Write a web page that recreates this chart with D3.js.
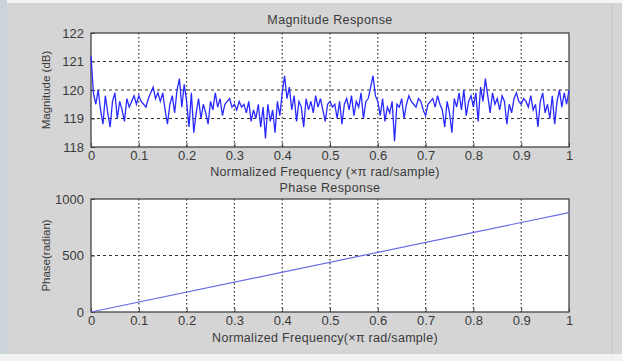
<!DOCTYPE html>
<html>
<head>
<script type="text/javascript" src="https://cdn.jsdelivr.net/npm/d3@7"></script>
<style>
body { margin: 0; background: #d5d5d5; }
svg { display: block; font-family: "Liberation Sans", Arial, sans-serif; }
</style>
</head>
<body>
<div id="chart"></div>
<script>
// magnitude (dB), one value every 0.005 of normalized frequency
var magValues = [
  121.2, 119.9, 119.5, 120.0, 119.3, 118.8, 119.8, 119.2, 118.7, 119.6, 119.9, 119.0, 119.6, 119.3, 118.9, 119.7, 119.4, 119.6, 119.8, 119.5,
  119.8, 119.6, 119.5, 119.4, 119.7, 119.9, 120.1, 119.7, 119.9, 119.6, 119.9, 119.3, 118.8, 119.5, 119.8, 119.2, 120.0, 120.4, 119.4, 120.2,
  119.6, 118.7, 119.9, 118.5, 119.2, 119.7, 119.0, 119.5, 119.2, 118.8, 119.6, 119.3, 119.9, 119.4, 119.7, 119.1, 119.5, 119.6, 119.7, 119.4,
  119.5, 119.3, 119.6, 119.4, 119.5, 119.2, 119.6, 118.9, 119.3, 119.0, 119.5, 118.7, 119.4, 118.3, 119.5, 118.9, 119.3, 118.5, 119.6, 119.1,
  119.9, 120.5, 119.7, 120.1, 119.3, 119.8, 118.9, 119.6, 119.4, 118.7, 119.7, 119.3, 119.6, 119.2, 119.8, 119.4, 119.7, 119.3, 118.9, 119.5,
  119.6, 119.4, 119.5, 119.0, 119.6, 118.8, 119.5, 119.7, 119.3, 119.8, 119.1, 119.6, 119.4, 119.9, 119.0, 119.6, 119.7, 120.1, 120.5, 119.8,
  119.6, 119.1, 119.7, 118.9, 119.4, 119.2, 119.6, 118.2, 119.5, 119.4, 119.7, 119.0, 119.5, 119.8, 119.6, 119.5, 119.4, 119.7, 119.6, 119.3,
  119.1, 119.5, 119.6, 119.7, 119.4, 119.8, 119.5, 119.3, 118.7, 119.6, 119.2, 118.5, 119.7, 119.4, 119.9, 119.3, 120.0, 119.1, 119.6, 119.8,
  119.4, 119.9, 118.9, 120.1, 119.6, 120.4, 119.8, 119.2, 119.9, 119.5, 119.7, 119.3, 119.8, 119.6, 118.8, 119.5, 119.2, 119.7, 119.9, 119.6,
  119.5, 119.7, 119.6, 119.4, 119.8, 119.3, 119.5, 118.7, 119.6, 119.9, 119.2, 119.5, 119.0, 119.8, 118.8, 119.6, 120.0, 119.4, 119.9, 119.5,
  120.0
];
var phaseFreq = [0, 1];
var phaseValues = [0, 880];

var xTicks = [0, 0.1, 0.2, 0.3, 0.4, 0.5, 0.6, 0.7, 0.8, 0.9, 1];
var magTicks = [118, 119, 120, 121, 122];
var phaseTicks = [0, 500, 1000];

var W = 622, H = 361;
var svg = d3.select("#chart").append("svg").attr("width", W).attr("height", H);

// window frame bits
svg.append("rect").attr("x", 0).attr("y", 0).attr("width", W).attr("height", 3).style("fill", "#f4f4f4");
svg.append("rect").attr("x", 0).attr("y", 0).attr("width", 7).attr("height", H).style("fill", "#c9d5d8");
svg.append("rect").attr("x", 0).attr("y", 354).attr("width", W).attr("height", 7).style("fill", "#f2f2f2");
svg.append("line").attr("x1", 612).attr("x2", 612).attr("y1", 3).attr("y2", 354).style("stroke", "#c4c4c4");

var x = d3.scaleLinear().domain([0, 1]).range([91, 569]);

function panel(top, bottom, yDomain, yTicks, title, xlab, ylab, titleY, xlabY) {
  var y = d3.scaleLinear().domain(yDomain).range([bottom, top]);
  svg.append("rect").attr("x", 91).attr("y", top).attr("width", 478).attr("height", bottom - top)
    .style("fill", "white");

  // grid
  svg.append("g").selectAll("line").data(xTicks.slice(1, -1)).enter().append("line")
    .attr("x1", function(d) { return x(d); }).attr("x2", function(d) { return x(d); })
    .attr("y1", top).attr("y2", bottom)
    .style("stroke", "#333").style("stroke-width", 1.2).style("stroke-dasharray", "1.5,2.5");
  svg.append("g").selectAll("line").data(yTicks.slice(1, -1)).enter().append("line")
    .attr("x1", 91).attr("x2", 569)
    .attr("y1", function(d) { return y(d); }).attr("y2", function(d) { return y(d); })
    .style("stroke", "#333").style("stroke-width", 1.2).style("stroke-dasharray", "3,3");

  var xa = svg.append("g").attr("transform", "translate(0," + bottom + ")")
    .call(d3.axisBottom(x).tickValues(xTicks).tickSize(-4).tickPadding(4).tickFormat(d3.format("")));
  var ya = svg.append("g").attr("transform", "translate(91,0)")
    .call(d3.axisLeft(y).tickValues(yTicks).tickSize(-4).tickPadding(7).tickFormat(d3.format("")));
  [xa, ya].forEach(function(a) {
    a.select(".domain").remove();
    a.selectAll("line").style("stroke", "#444");
    a.selectAll("text").style("font-size", "13px").style("fill", "#3a3a3a");
  });
  // box
  svg.append("rect").attr("x", 91).attr("y", top).attr("width", 478).attr("height", bottom - top)
    .style("fill", "none").style("stroke", "#444").style("stroke-width", 1.3);

  svg.append("text").attr("x", 330).attr("y", titleY).attr("text-anchor", "middle")
    .style("font-size", "12.5px").style("letter-spacing", "0.4px").style("fill", "#3a3a3a").text(title);
  svg.append("text").attr("x", 325).attr("y", xlabY).attr("text-anchor", "middle")
    .style("font-size", "12.5px").style("letter-spacing", "0.3px").style("fill", "#3a3a3a").text(xlab);
  svg.append("text").attr("transform", "translate(50," + ((top + bottom) / 2) + ") rotate(-90)")
    .attr("text-anchor", "middle").style("font-size", "11.5px").style("fill", "#3a3a3a").text(ylab);
  return y;
}

var yMag = panel(33, 147, [118, 122], magTicks, "Magnitude Response",
  "Normalized Frequency (\u00d7\u03c0 rad/sample)", "Magnitude (dB)", 24, 176);
var yPh = panel(199, 312, [0, 1000], phaseTicks, "Phase Response",
  "Normalized Frequency(\u00d7\u03c0 rad/sample)", "Phase(radian)", 192, 342);

svg.append("path").datum(magValues)
  .attr("d", d3.line().x(function(d, i) { return x(i / (magValues.length - 1)); }).y(function(d) { return yMag(d); }))
  .style("fill", "none").style("stroke", "#2a2aff").style("stroke-width", 1.3);

svg.append("path").datum(phaseValues)
  .attr("d", d3.line().x(function(d, i) { return x(phaseFreq[i]); }).y(function(d) { return yPh(d); }))
  .style("fill", "none").style("stroke", "#6a6ae6").style("stroke-width", 1.2);
</script>
</body>
</html>
